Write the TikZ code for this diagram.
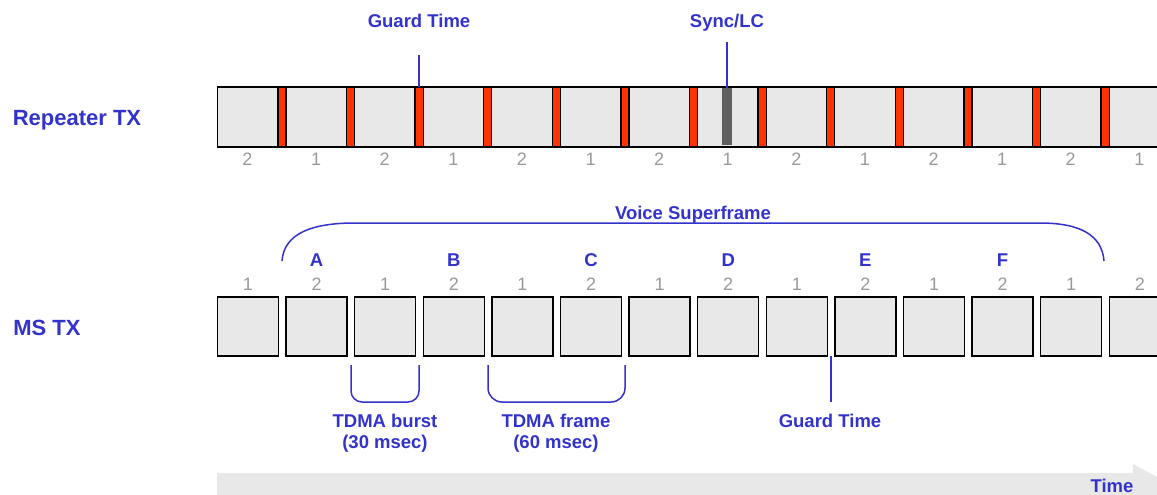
\documentclass[tikz,border=0pt]{standalone}
\usepackage{fontspec}
\setmainfont{Liberation Sans}
\usetikzlibrary{calc}
\definecolor{tblue}{HTML}{3333CC}
\definecolor{tgray}{HTML}{999999}
\definecolor{boxfill}{HTML}{E8E8E8}
\definecolor{gred}{HTML}{FF3300}
\definecolor{syncg}{HTML}{606060}
\begin{document}
\begin{tikzpicture}[x=1pt,y=-1pt,
  rslot/.style={draw=black, line width=1.4pt, fill=boxfill, minimum width=60.6pt, minimum height=60pt, inner sep=0pt, outer sep=0pt},
  mslot/.style={draw=black, line width=1.4pt, fill=boxfill, minimum width=61pt, minimum height=59pt, inner sep=0pt, outer sep=0pt},
  gbar/.style={draw=black, line width=1.2pt, fill=gred, minimum width=8pt, minimum height=60pt, inner sep=0pt, outer sep=0pt},
  sbar/.style={fill=syncg, minimum width=10pt, minimum height=57pt, inner sep=0pt, outer sep=0pt},
  num/.style={text=tgray, font=\fontsize{18}{20}\selectfont, anchor=base, inner sep=0pt},
  lbl/.style={text=tblue, font=\bfseries\fontsize{18.5}{21}\selectfont, anchor=base, inner sep=0pt, align=center},
  rowlbl/.style={text=tblue, font=\bfseries\fontsize{22}{24}\selectfont, anchor=base, inner sep=0pt},
  bl/.style={draw=tblue, line width=1.5pt}]
\useasboundingbox (0,0) rectangle (1157,495);
\clip (0,0) rectangle (1157,495);

% time arrow
\fill[boxfill] (217,473) -- (1133,473) -- (1133,464) -- (1185,492) -- (1133,520) -- (1133,511) -- (217,511) -- cycle;
\node[lbl] (time) at (1112,492) {Time};

% row labels
\node[rowlbl] (rep) at (77,125) {Repeater TX};
\node[rowlbl] (ms) at (47,335) {MS TX};

% repeater row
\foreach \k [evaluate=\k as \n using {int(2-mod(\k,2))}] in {0,...,13} {
  \node[rslot] (r\k) at ({247.5+68.6*\k},117) {};
  \node[num] (rn\k) at ({247.5+68.6*\k},165) {\n};
}
\foreach \k in {0,...,12} {
  \node[gbar] (g\k) at ({282+68.6*\k},117) {};
}
\node[sbar] (sync) at (727,116.5) {};

\node[lbl] (gt1) at (419,28) {Guard Time};
\draw[bl] (g2.north) -- ++(0,-32);
\node[lbl] (sl) at (727,28) {Sync/LC};
\draw[bl] (sync.north) -- ++(0,-46);

% MS row
\foreach \k [evaluate=\k as \n using {int(1+mod(\k,2))}] in {0,...,13} {
  \node[mslot] (m\k) at ({248+68.6*\k},326.5) {};
  \node[num] (mn\k) at ({248+68.6*\k},290) {\n};
}
\foreach \k/\L in {1/A,3/B,5/C,7/D,9/E,11/F} {
  \node[lbl] (L\L) at ({248+68.6*\k},266) {\L};
}

% voice superframe brace
\coordinate (vs1) at (282,261);
\coordinate (vs2) at (1104,261);
\draw[bl] (vs1) .. controls (284,232) and (315,223) .. (355,223) -- (1040,223) .. controls (1080,223) and (1102,235) .. (vs2);
\node[lbl] (vs) at (693,219) {Voice Superframe};

% guard time bottom
\coordinate (gtb) at ($(m8.south east)!0.5!(m9.south west)$);
\node[lbl] (gt2) at (830,427) {Guard Time};
\draw[bl] (gtb) -- ++(0,46);

% brackets
\draw[bl, rounded corners=11pt] (351,365) -- (351,402) -- (419,402) -- (419,365);
\node[lbl] (burst) at (385,448) {TDMA burst\\(30 msec)};
\draw[bl, rounded corners=14pt] (488,365) -- (488,402) -- (625,402) -- (625,365);
\node[lbl] (frame) at (556,448) {TDMA frame\\(60 msec)};
\end{tikzpicture}
\end{document}
